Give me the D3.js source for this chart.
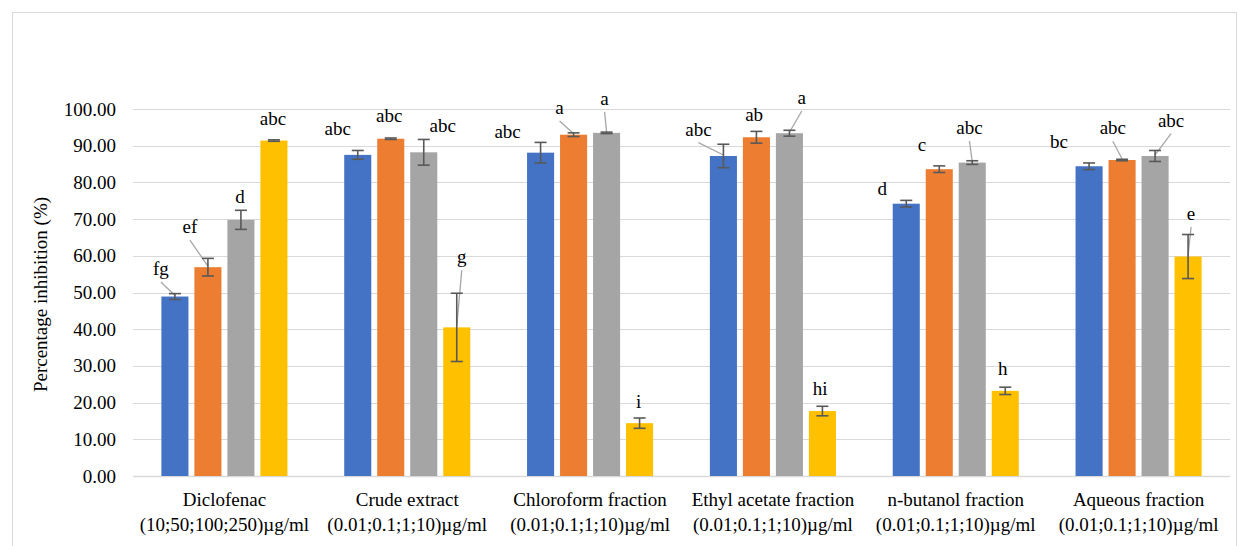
<!DOCTYPE html>
<html>
<head>
<meta charset="utf-8">
<script src="https://cdnjs.cloudflare.com/ajax/libs/d3/7.8.5/d3.min.js"></script>
<style>
  body { margin: 0; background: #fff; }
  svg text { font-family: "Liberation Serif", "DejaVu Serif", serif !important; fill: #000; }
</style>
</head>
<body>
<svg width="1238" height="546"></svg>
<script>
// categories (two text lines each)
var categories = [
  ["Diclofenac", "(10;50;100;250)\u00b5g/ml"],
  ["Crude extract", "(0.01;0.1;1;10)\u00b5g/ml"],
  ["Chloroform fraction", "(0.01;0.1;1;10)\u00b5g/ml"],
  ["Ethyl acetate fraction", "(0.01;0.1;1;10)\u00b5g/ml"],
  ["n-butanol fraction", "(0.01;0.1;1;10)\u00b5g/ml"],
  ["Aqueous fraction", "(0.01;0.1;1;10)\u00b5g/ml"]
];
var seriesNames = ["c1", "c2", "c3", "c4"];
var seriesColors = ["#4472C4", "#ED7D31", "#A5A5A5", "#FFC000"];

// mean percentage inhibition, one array per concentration level
var level1 = [48.9, 87.5, 88.1, 87.2, 74.2, 84.4];
var level2 = [56.9, 91.9, 93.0, 92.3, 83.6, 86.1];
var level3 = [69.8, 88.2, 93.5, 93.4, 85.4, 87.2];
var level4 = [91.4, 40.5, 14.4, 17.7, 23.2, 59.8];

// error (+/-)
var err1 = [0.8, 1.2, 2.8, 3.2, 0.9, 0.9];
var err2 = [2.4, 0.2, 0.5, 1.6, 0.9, 0.2];
var err3 = [2.6, 3.5, 0.2, 0.8, 0.5, 1.5];
var err4 = [0.2, 9.3, 1.4, 1.3, 1.0, 6.0];

// significance letters
var letters1 = ["fg", "abc", "abc", "abc", "d", "bc"];
var letters2 = ["ef", "abc", "a", "ab", "c", "abc"];
var letters3 = ["d", "abc", "a", "a", "abc", "abc"];
var letters4 = ["abc", "g", "i", "hi", "h", "e"];

var yTicks = [0, 10, 20, 30, 40, 50, 60, 70, 80, 90, 100];

// where each letter sits relative to its bar top: [dx, dy, leader line]
var labelPlace = [
  [[-14, -26.5, 1], [-18, -39, 1], [-1, -21.5, 0], [-1, -21, 0]],
  [[-20, -25, 0], [-1.5, -21.5, 0], [19, -25, 0], [5, -69, 1]],
  [[-33, -20, 0], [-14, -25.7, 1], [-2, -33, 1], [-1, -20, 0]],
  [[-25, -25.3, 1], [-2.3, -21.6, 0], [12.4, -34.2, 1], [-2.3, -21, 0]],
  [[-24, -13.7, 0], [-17.4, -23.5, 0], [-2.8, -33.6, 1], [-2.4, -21, 0]],
  [[-30, -23, 0], [-9.2, -30.7, 1], [16, -34.3, 1], [3, -41.5, 1]]
];

var values = [level1, level2, level3, level4];
var errors = [err1, err2, err3, err4];
var letters = [letters1, letters2, letters3, letters4];

var FONT = "Liberation Serif, DejaVu Serif, serif";
var FS = 19;
var svg = d3.select("svg");
var plotLeft = 133, plotRight = 1230, plotTop = 109, plotBottom = 476;

// outer chart border
svg.append("rect")
  .attr("x", 12.5).attr("y", 12.5)
  .attr("width", 1224).attr("height", 560)
  .attr("fill", "none").attr("stroke", "#d9d9d9");

var x0 = d3.scaleBand()
  .domain(d3.range(categories.length))
  .range([plotLeft, plotRight])
  .paddingInner(0.278)
  .paddingOuter(0.139);

var x1 = d3.scaleBand()
  .domain(seriesNames)
  .range([0, x0.bandwidth()])
  .paddingInner(0.18)
  .paddingOuter(0.09);

var y = d3.scaleLinear().domain([0, 100]).range([plotBottom, plotTop]);

// gridlines
svg.append("g")
  .selectAll("line")
  .data(yTicks)
  .enter().append("line")
    .attr("x1", plotLeft).attr("x2", plotRight)
    .attr("y1", function (d) { return Math.round(y(d)) + 0.5; })
    .attr("y2", function (d) { return Math.round(y(d)) + 0.5; })
    .attr("stroke", "#d9d9d9")
    .attr("stroke-width", function (d) { return d === 0 ? 1.5 : 1; });

// y axis labels
var yAxis = d3.axisLeft(y)
  .tickValues(yTicks)
  .tickFormat(d3.format(".2f"))
  .tickSize(0)
  .tickPadding(17);

var ya = svg.append("g")
  .attr("transform", "translate(" + plotLeft + ",0)")
  .call(yAxis)
  .attr("font-family", FONT)
  .attr("font-size", FS);
ya.select(".domain").remove();
ya.selectAll("text")
  .style("font-family", FONT)
  .attr("fill", "#000");

svg.append("text")
  .attr("transform", "translate(47," + ((plotTop + plotBottom) / 2 + 2) + ") rotate(-90)")
  .attr("text-anchor", "middle")
  .style("font-family", FONT)
  .attr("font-size", FS)
  .text("Percentage inhibition (%)");

// bars
var bars = [];
categories.forEach(function (c, ci) {
  seriesNames.forEach(function (s, si) {
    bars.push({ ci: ci, si: si, s: s, v: values[si][ci], e: errors[si][ci], t: letters[si][ci], p: labelPlace[ci][si] });
  });
});

function cx(d) { return x0(d.ci) + x1(d.s) + x1.bandwidth() / 2; }

svg.append("g")
  .selectAll("rect")
  .data(bars)
  .enter().append("rect")
    .attr("x", function (d) { return x0(d.ci) + x1(d.s); })
    .attr("y", function (d) { return y(d.v); })
    .attr("width", x1.bandwidth())
    .attr("height", function (d) { return y(0) - y(d.v); })
    .attr("fill", function (d) { return seriesColors[d.si]; });

// leader lines
svg.append("g")
  .selectAll("line")
  .data(bars.filter(function (d) { return d.p[2]; }))
  .enter().append("line")
    .attr("x1", function (d) { return cx(d) + d.p[0]; })
    .attr("y1", function (d) { return y(d.v) + d.p[1] + 12; })
    .attr("x2", function (d) { return cx(d); })
    .attr("y2", function (d) { return y(d.v) - 1; })
    .attr("stroke", "#a6a6a6")
    .attr("stroke-width", 1.3);

// error bars
var eb = svg.append("g")
  .attr("stroke", "#595959")
  .attr("stroke-width", 1.6)
  .selectAll("g")
  .data(bars)
  .enter().append("g");

eb.append("line")
  .attr("x1", cx).attr("x2", cx)
  .attr("y1", function (d) { return y(d.v + d.e); })
  .attr("y2", function (d) { return y(d.v - d.e); });
eb.append("line")
  .attr("x1", function (d) { return cx(d) - 6; })
  .attr("x2", function (d) { return cx(d) + 6; })
  .attr("y1", function (d) { return y(d.v + d.e); })
  .attr("y2", function (d) { return y(d.v + d.e); });
eb.append("line")
  .attr("x1", function (d) { return cx(d) - 6; })
  .attr("x2", function (d) { return cx(d) + 6; })
  .attr("y1", function (d) { return y(d.v - d.e); })
  .attr("y2", function (d) { return y(d.v - d.e); });

// letters
svg.append("g")
  .selectAll("text")
  .data(bars)
  .enter().append("text")
    .attr("x", function (d) { return cx(d) + d.p[0]; })
    .attr("y", function (d) { return y(d.v) + d.p[1] + 5; })
    .attr("text-anchor", "middle")
    .style("font-family", FONT)
    .attr("font-size", FS)
    .text(function (d) { return d.t; });

// category labels
var cl = svg.append("g")
  .selectAll("text")
  .data(categories)
  .enter().append("text")
    .attr("text-anchor", "middle")
    .style("font-family", FONT)
    .attr("font-size", FS)
    .attr("x", function (d, i) { return x0(i) + x0.bandwidth() / 2; });
cl.append("tspan")
  .attr("x", function (d, i) { return x0(i) + x0.bandwidth() / 2; })
  .attr("y", 506)
  .text(function (d) { return d[0]; });
cl.append("tspan")
  .attr("x", function (d, i) { return x0(i) + x0.bandwidth() / 2; })
  .attr("y", 531)
  .text(function (d) { return d[1]; });
</script>
</body>
</html>
